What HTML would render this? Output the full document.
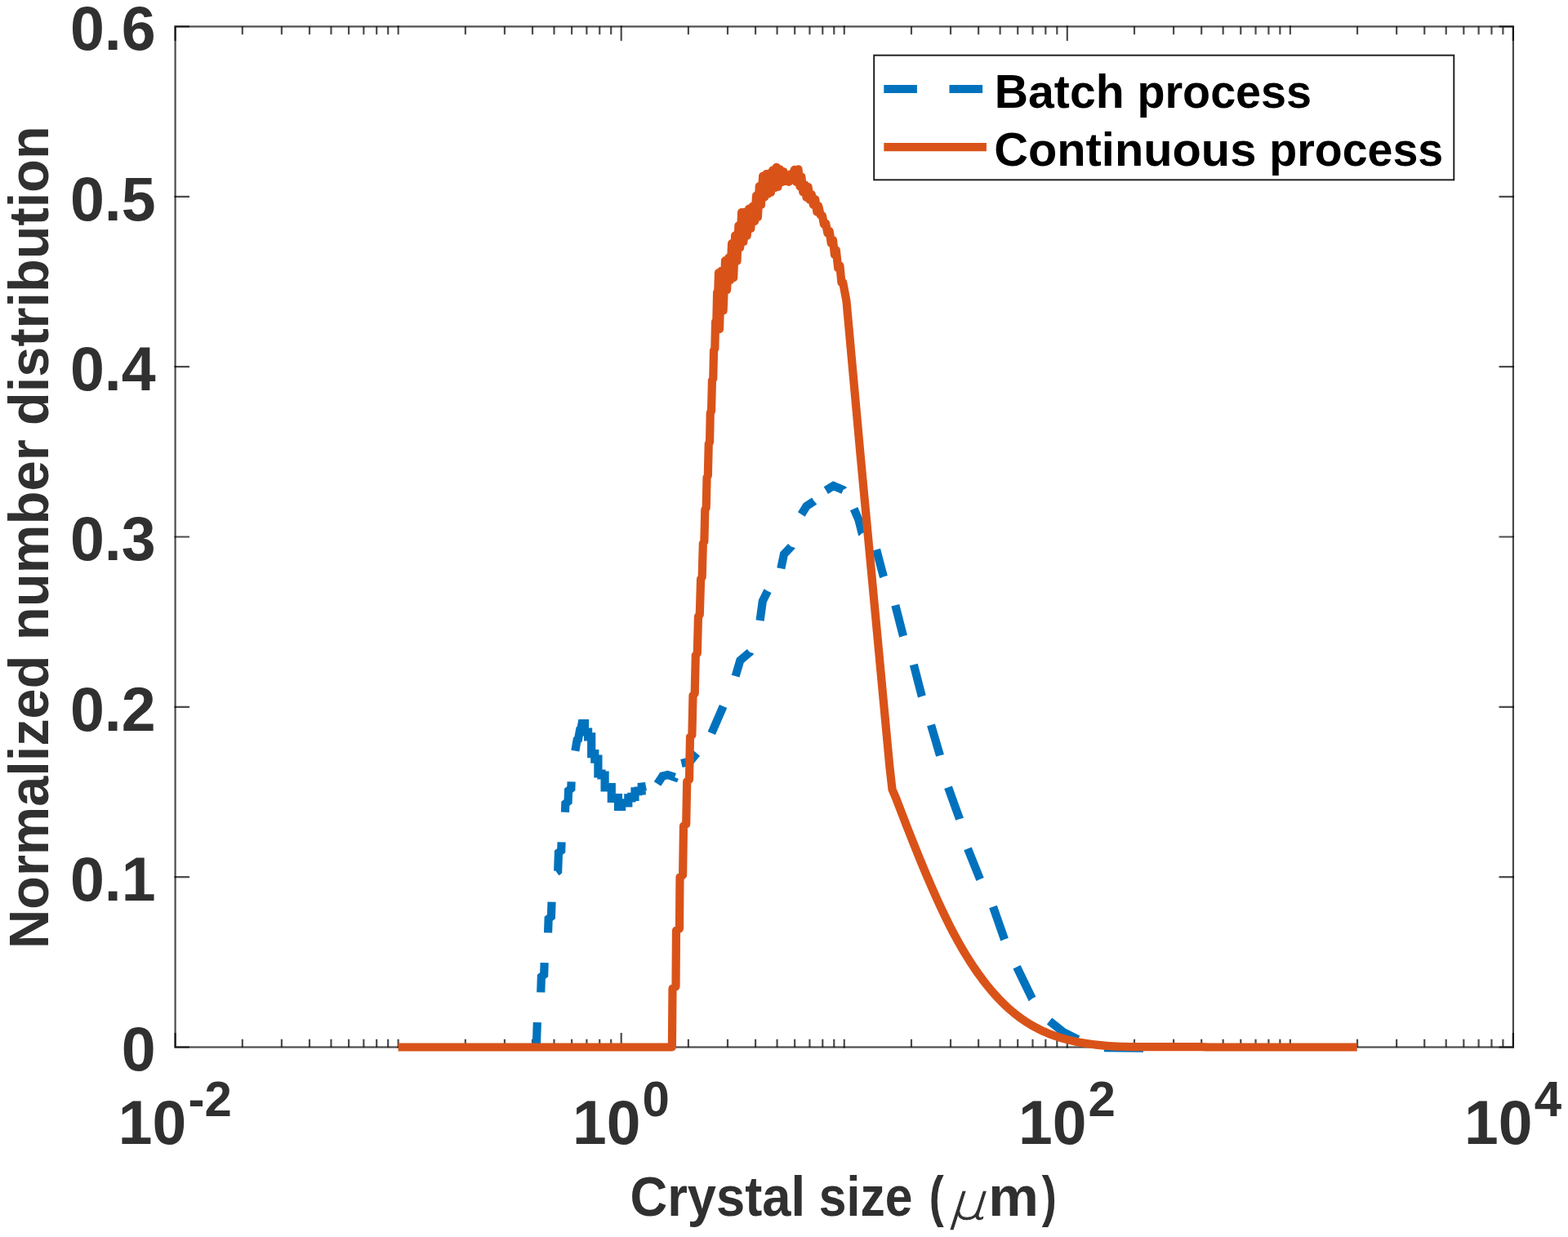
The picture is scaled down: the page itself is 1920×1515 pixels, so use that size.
<!DOCTYPE html>
<html lang="en"><head><meta charset="utf-8"><title>Normalized number distribution vs crystal size</title>
<style>
html,body{margin:0;padding:0;background:#fff;}
body{width:1920px;height:1515px;overflow:hidden;}
svg{display:block;}
.tick{font-family:"Liberation Sans",Arial,Helvetica,sans-serif;font-weight:700;font-size:75px;fill:#303030;}
.sup{font-size:60px;}
.lab{font-family:"Liberation Sans",Arial,Helvetica,sans-serif;font-weight:700;fill:#303030;}
.leg{font-family:"Liberation Sans",Arial,Helvetica,sans-serif;font-weight:700;fill:#000;}
.lab,.leg,.tick,.mu{white-space:pre;}
.mu{fill:#303030;font-family:"DejaVu Sans","Liberation Sans",sans-serif;font-weight:200;}
</style></head><body>
<svg width="1920" height="1515" viewBox="0 0 1920 1515">
<rect width="1920" height="1515" fill="#fff"/>
<g id="axes" fill="none" stroke="#000" stroke-width="2.2" stroke-opacity="0.7">
<rect x="214.6" y="32.5" width="1638.3" height="1250"/>
<path d="M214.6 1283.6v-18.5M214.6 31.4v18.5M296.8 1282.5v-9.8M296.8 32.5v9.8M344.88 1282.5v-9.8M344.88 32.5v9.8M378.99 1282.5v-9.8M378.99 32.5v9.8M405.45 1282.5v-9.8M405.45 32.5v9.8M427.07 1282.5v-9.8M427.07 32.5v9.8M445.35 1282.5v-9.8M445.35 32.5v9.8M461.19 1282.5v-9.8M461.19 32.5v9.8M475.16 1282.5v-9.8M475.16 32.5v9.8M487.65 1283.6v-10.9M487.65 31.4v10.9M569.85 1282.5v-9.8M569.85 32.5v9.8M617.93 1282.5v-9.8M617.93 32.5v9.8M652.04 1282.5v-9.8M652.04 32.5v9.8M678.5 1282.5v-9.8M678.5 32.5v9.8M700.12 1282.5v-9.8M700.12 32.5v9.8M718.4 1282.5v-9.8M718.4 32.5v9.8M734.24 1282.5v-9.8M734.24 32.5v9.8M748.21 1282.5v-9.8M748.21 32.5v9.8M760.7 1283.6v-18.5M760.7 31.4v18.5M842.9 1282.5v-9.8M842.9 32.5v9.8M890.98 1282.5v-9.8M890.98 32.5v9.8M925.09 1282.5v-9.8M925.09 32.5v9.8M951.55 1282.5v-9.8M951.55 32.5v9.8M973.17 1282.5v-9.8M973.17 32.5v9.8M991.45 1282.5v-9.8M991.45 32.5v9.8M1007.29 1282.5v-9.8M1007.29 32.5v9.8M1021.26 1282.5v-9.8M1021.26 32.5v9.8M1033.75 1283.6v-10.9M1033.75 31.4v10.9M1115.95 1282.5v-9.8M1115.95 32.5v9.8M1164.03 1282.5v-9.8M1164.03 32.5v9.8M1198.14 1282.5v-9.8M1198.14 32.5v9.8M1224.6 1282.5v-9.8M1224.6 32.5v9.8M1246.22 1282.5v-9.8M1246.22 32.5v9.8M1264.5 1282.5v-9.8M1264.5 32.5v9.8M1280.34 1282.5v-9.8M1280.34 32.5v9.8M1294.31 1282.5v-9.8M1294.31 32.5v9.8M1306.8 1283.6v-18.5M1306.8 31.4v18.5M1389 1282.5v-9.8M1389 32.5v9.8M1437.08 1282.5v-9.8M1437.08 32.5v9.8M1471.19 1282.5v-9.8M1471.19 32.5v9.8M1497.65 1282.5v-9.8M1497.65 32.5v9.8M1519.27 1282.5v-9.8M1519.27 32.5v9.8M1537.55 1282.5v-9.8M1537.55 32.5v9.8M1553.39 1282.5v-9.8M1553.39 32.5v9.8M1567.36 1282.5v-9.8M1567.36 32.5v9.8M1579.85 1283.6v-10.9M1579.85 31.4v10.9M1662.05 1282.5v-9.8M1662.05 32.5v9.8M1710.13 1282.5v-9.8M1710.13 32.5v9.8M1744.24 1282.5v-9.8M1744.24 32.5v9.8M1770.7 1282.5v-9.8M1770.7 32.5v9.8M1792.32 1282.5v-9.8M1792.32 32.5v9.8M1810.6 1282.5v-9.8M1810.6 32.5v9.8M1826.44 1282.5v-9.8M1826.44 32.5v9.8M1840.41 1282.5v-9.8M1840.41 32.5v9.8M1852.9 1283.6v-18.5M1852.9 31.4v18.5M213.5 1282.5h18.5M1854 1282.5h-18.5M213.5 1074.17h18.5M1854 1074.17h-18.5M213.5 865.83h18.5M1854 865.83h-18.5M213.5 657.5h18.5M1854 657.5h-18.5M213.5 449.17h18.5M1854 449.17h-18.5M213.5 240.83h18.5M1854 240.83h-18.5M213.5 32.5h18.5M1854 32.5h-18.5"/>
</g>
<g id="curves" fill="none" stroke-linejoin="round">
<path id="batch" d="M656.7 1284.5 L656.8 1283 L658.32 1237.25 L661.6 1234.75 L662.88 1196.25 L666.17 1193.75 L667.25 1161.25 L670.53 1158.75 L671.64 1125.25 L674.93 1122.75 L676.04 1089.25 L679.32 1086.75 L679.9 1069.25 L683.19 1066.75 L683.94 1044.25 L687.22 1041.75 L688.17 1013.25 L691.45 1010.75 L692.33 984.25 L695.61 981.75 L696.06 968.25 L699.34 965.75 L700.2 940 L704.2 920.5 L706.6 906.5 L708 905.5 L710.2 893.5 L711.4 892.5 L712.6 886 L716 886 L716 896.5 L720.1 896.5 L720.1 902.33 L724.2 902.33 L724.2 923.2 L728.3 923.2 L728.3 929.69 L732.4 929.69 L732.4 947.52 L736.5 947.52 L736.5 949.5 L740.6 949.5 L740.6 964.46 L744.7 964.46 L744.7 964.02 L748.8 964.02 L748.8 977.96 L752.9 977.96 L752.9 976.99 L757 976.99 L757 987.83 L761.1 987.83 L761.1 983.41 L765.2 983.41 L765.2 983.46 L769.3 983.46 L769.3 977.47 L773.4 977.47 L773.4 975.82 L777.5 975.82 L777.5 969.27 L781.6 969.27 L781.6 968.49 L785.7 968.49 L785.7 963.54 L790.6 963.1 L805 960 L811.3 950.5 L817.5 949 L826.3 951.9 L834.4 935 L845 932.5 L853.1 922.5 L862 912 L871.3 898.1 L885.6 865 L900.6 828.1 L906.3 808.8 L918.1 798.8 L930.6 760 L933.8 736.3 L940 723.8 L956.3 696.3 L960 678.8 L968.8 669.4 L981.3 630 L987.5 620 L996.9 613.8 L1011.3 600.6 L1020.6 595 L1032.5 600 L1045.6 623.1 L1051.3 636.3 L1055.6 653.1 L1073.1 673.1 L1081.9 706.3 L1096.3 741.3 L1106 779 L1118.8 814 L1128.8 852.8 L1140 887.8 L1151 925.3 L1161 964.3 L1175 1003 L1185 1039.3 L1200 1076.8 L1216 1110.5 L1230 1150.5 L1245 1184.3 L1263.8 1223 L1285 1250.5 L1302 1264 L1320 1273 L1336 1279.5 L1352 1283.2 L1400 1283.6" stroke="#0072BD" stroke-width="10.2" stroke-linejoin="miter" stroke-dasharray="32.47 38.33 37.86 38.36 39.52 38.88 39.27 38.19 40.68 38.2 242.81 14.39 27.04 18.74 23.76 30.49 36.06 39.83 35.59 40.76 37.87 31.97 30.76 41.34 23.03 19.53 23.76 26.56 31.72 26.58 34.35 37.85 38.93 37.27 40.07 36.75 39.08 40.26 41.15 37.65 40.39 37.31 42.38 36.98 43.02 34.72 41.83 33.69 48 9999" stroke-dashoffset="0"/>
<path d="M487.65 1282.5 L822.9 1282.5 L823.5 1210.7 L827.5 1208.3 L828 1139.7 L832 1137.3 L832.5 1074.2 L836.1 1071.8 L837 1011.7 L840.2 1009.3 L841.2 957.2 L844 954.8 L845 902.5 L847.4 900.1 L848.5 851.7 L850.7 849.3 L851.8 802.6 L853.8 800.2 L855 755.1 L856.8 752.7 L858.1 709.1 L859.7 706.7 L860.85 665.6 L862.35 663.2 L863.3 624.4 L864.7 622 L865.55 584.8 L866.85 582.4 L867.75 543.6 L869.05 541.2 L869.75 505.6 L871.05 503.2 L871.95 466 L873.25 463.6 L874.05 429.2 L875.35 426.8 L876.05 394.2 L877.35 391.8 L878.1 358.2 L879.3 355.8 L880 334 L881 403.08 L883.25 331.8 L885.63 380.34 L888 319.16 L890.08 354.91 L892.27 315.62 L894.13 342.98 L896.07 298.14 L898.21 339.95 L900.13 288.47 L902.5 319.57 L904.38 276.3 L906.25 303.13 L908.12 260.08 L910.45 295.97 L912.37 259.64 L914.71 288.59 L917.1 255.63 L919.31 279.83 L921.69 252.59 L924.08 270.88 L926.06 239.63 L927.95 265.75 L929.77 228 L931.94 250.84 L934.15 215.64 L936.13 241.41 L938.22 213.18 L940.31 237.53 L942.13 212.31 L943.93 235.55 L946.24 208.43 L948.52 229.99 L950.67 204.85 L952.49 228.87 L954.87 207.28 L957.14 222.97 L959.51 210.3 L961.52 222.01 L963.8 216.91 L966.05 222.72 L968.38 213.13 L970.76 220.44 L972.76 207.85 L975.12 222.86 L977.49 207.25 L979.47 228.34 L981.37 216.52 L983.25 235.26 L985.66 226.37 L987.48 241.84 L989.6 229.05 L991.53 244.61 L993.84 238.05 L995.89 250.86 L998.25 244.03 L1000.35 259.47 L1002.21 252.24 L1004.6 263.18 L1006.88 264.02 L1008.94 274.75 L1011.25 273.76 L1013.33 285.64 L1015.65 283.01 L1017.72 297.88 L1019.96 293.87 L1021.93 312.02 L1023.81 306.43 L1026.22 328.35 L1028.4 325.29 L1030.39 346.06 L1032.2 346 L1036.5 369 L1053.75 559 L1089.25 938 L1092.5 966.75 L1097.5 978.6 L1102.5 991.68 L1107.5 1004.66 L1112.5 1017.5 L1117.5 1030.18 L1122.5 1042.68 L1127.5 1054.96 L1132.5 1067.01 L1137.5 1078.8 L1142.5 1090.3 L1147.5 1101.49 L1152.5 1112.34 L1157.5 1122.82 L1162.5 1132.91 L1167.5 1142.58 L1172.5 1151.83 L1177.5 1160.66 L1182.5 1169.09 L1187.5 1177.11 L1192.5 1184.74 L1197.5 1191.99 L1202.5 1198.86 L1207.5 1205.37 L1212.5 1211.51 L1217.5 1217.31 L1222.5 1222.77 L1227.5 1227.89 L1232.5 1232.7 L1237.5 1237.18 L1242.5 1241.36 L1247.5 1245.24 L1252.5 1248.84 L1257.5 1252.16 L1262.5 1255.23 L1267.5 1258.06 L1272.5 1260.65 L1277.5 1263.02 L1282.5 1265.19 L1287.5 1267.17 L1292.5 1268.96 L1297.5 1270.59 L1302.5 1272.06 L1307.5 1273.39 L1312.5 1274.59 L1317.5 1275.68 L1322.5 1276.66 L1327.5 1277.54 L1332.5 1278.32 L1337.5 1279.02 L1342.5 1279.62 L1347.5 1280.15 L1352.5 1280.6 L1357.5 1280.98 L1362.5 1281.3 L1367.5 1281.55 L1372.5 1281.75 L1377.5 1281.9 L1382.5 1282.01 L1387.5 1282.08 L1392.5 1282.11 L1397.5 1282.11 L1402.5 1282.11 L1407.5 1282.11 L1412.5 1282.11 L1417.5 1282.11 L1422.5 1282.11 L1427.5 1282.11 L1432.5 1282.11 L1437.5 1282.11 L1442.5 1282.11 L1447.5 1282.11 L1452.5 1282.11 L1457.5 1282.11 L1462.5 1282.11 L1467.5 1282.11 L1472.5 1282.22 L1477.5 1282.46 L1480 1282.5 L1661.7 1282.5" stroke="#D95319" stroke-width="10.2"/>
</g>
<g class="tick" text-anchor="end">
<text transform="translate(190.7 1311.4) scale(1.005 1.018)">0</text>
<text transform="translate(190.7 1103.07) scale(1.005 1.018)">0.1</text>
<text transform="translate(190.7 894.73) scale(1.005 1.018)">0.2</text>
<text transform="translate(190.7 686.4) scale(1.005 1.018)">0.3</text>
<text transform="translate(190.7 478.07) scale(1.005 1.018)">0.4</text>
<text transform="translate(190.7 269.73) scale(1.005 1.018)">0.5</text>
<text transform="translate(190.7 61.4) scale(1.005 1.018)">0.6</text>
</g>
<g class="tick">
<text transform="translate(144.83 1401.3) scale(1 1.02)">10</text>
<text class="sup" transform="translate(230.43 1366.5) scale(1 1.005)">-2</text>
<text transform="translate(700.92 1401.3) scale(1 1.02)">10</text>
<text class="sup" transform="translate(786.52 1366.5) scale(1 1.005)">0</text>
<text transform="translate(1247.02 1401.3) scale(1 1.02)">10</text>
<text class="sup" transform="translate(1332.62 1366.5) scale(1 1.005)">2</text>
<text transform="translate(1793.12 1401.3) scale(1 1.02)">10</text>
<text class="sup" transform="translate(1878.72 1366.5) scale(1 1.005)">4</text>
</g>
<g id="xlabel">
<text class="lab" font-size="66.5" transform="translate(771.5 1488.5) scale(0.9521 1.02)">Crystal</text>
<text class="lab" font-size="66.5" transform="translate(1002.87 1488.5) scale(0.9109 1.02)">size</text>
<text class="lab" font-size="66.5" transform="translate(1137.82 1488.5) scale(0.8099 1.03)">(</text>
<text class="mu" font-size="65" stroke="#303030" stroke-width="0.9" transform="translate(1160.8 1492.5) scale(1.057 0.951) skewX(-16)">μ</text>
<text class="lab" font-size="66.5" transform="translate(1210.33 1488.5) scale(1.0430 1.02)">m</text>
<text class="lab" font-size="66.5" transform="translate(1275.65 1488.5) scale(0.8152 1.03)">)</text>
</g>
<g id="ylabel">
<text class="lab" font-size="66.5" transform="translate(58.8 1161.96) rotate(-90) scale(1.0028 1.02)">Normalized</text>
<text class="lab" font-size="66.5" transform="translate(58.8 784.22) rotate(-90) scale(1.0094 1.02)">number</text>
<text class="lab" font-size="66.5" transform="translate(58.8 520.94) rotate(-90) scale(1.0030 1.02)">distribution</text>
</g>
<g id="legend">
<rect x="1070.2" y="67.7" width="710.1" height="152.6" fill="#fff" stroke="none"/>
<rect x="1070.2" y="67.7" width="710.1" height="152.6" fill="none" stroke="#222" stroke-width="2"/>
<path d="M1082.3 109H1207.9" fill="none" stroke="#0072BD" stroke-width="10.2" stroke-dasharray="40.6 39.6"/>
<path d="M1082.3 180.2H1207.9" fill="none" stroke="#D95319" stroke-width="10.2"/>
<text class="leg" font-size="57.5" transform="translate(1217.77 131.7) scale(0.9945 1)">Batch</text>
<text class="leg" font-size="57.5" transform="translate(1392.43 131.7) scale(0.9686 1)">process</text>
<text class="leg" font-size="57.5" transform="translate(1217.13 203.3) scale(1.0062 1)">Continuous</text>
<text class="leg" font-size="57.5" transform="translate(1554.34 203.3) scale(0.9655 1)">process</text>
</g>
</svg>
</body></html>
